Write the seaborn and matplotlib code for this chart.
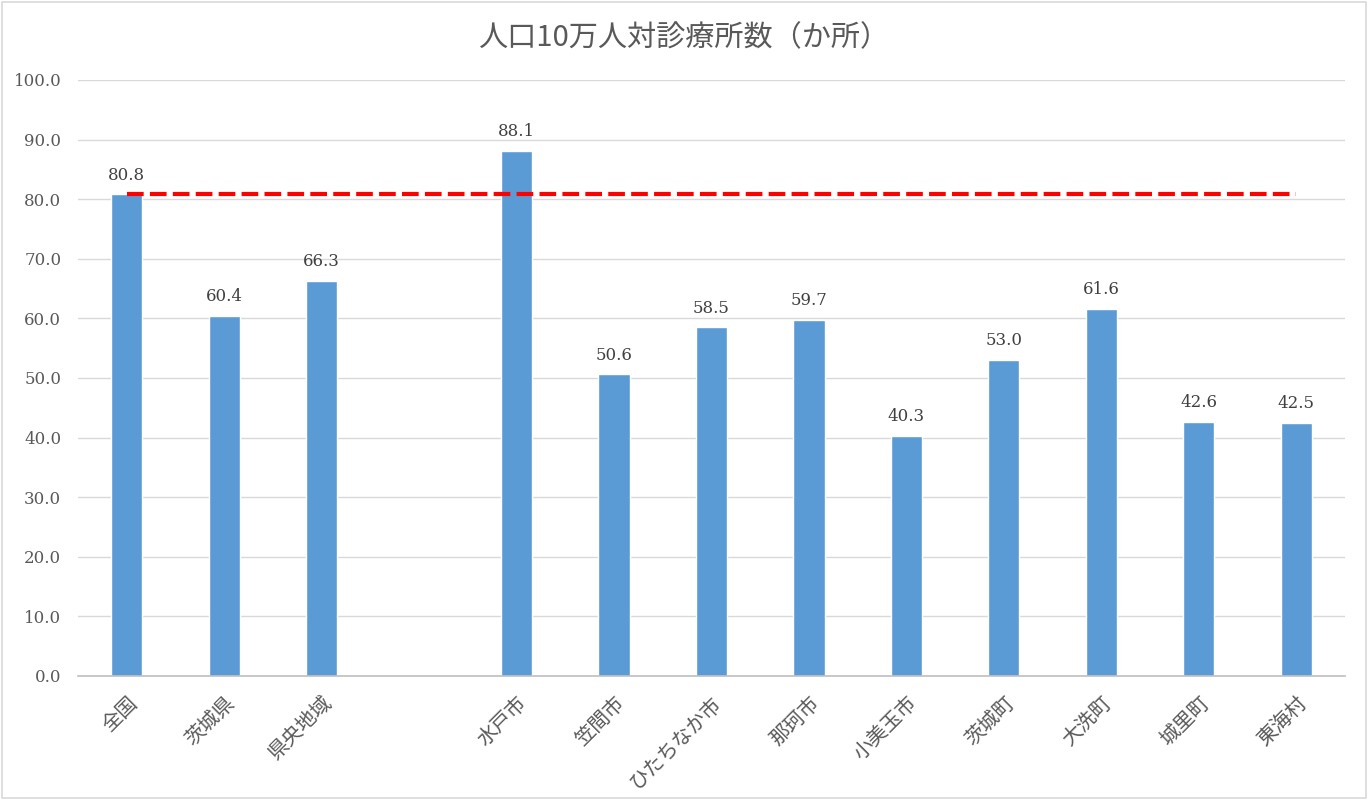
import matplotlib
matplotlib.use("Agg")
import matplotlib.pyplot as plt
import matplotlib.patches as mpatches
import seaborn as sns
import pandas as pd
import numpy as np

categories = ["全国", "茨城県", "県央地域", " ", "水戸市", "笠間市", "ひたちなか市", "那珂市",
              "小美玉市", "茨城町", "大洗町", "城里町", "東海村"]
values = [80.8, 60.4, 66.3, np.nan, 88.1, 50.6, 58.5, 59.7, 40.3, 53.0, 61.6, 42.6, 42.5]
national_value = 80.8
title = "人口10万人対診療所数（か所）"

sns.set_theme(style="white")
plt.rcParams['font.family'] = ['Noto Sans CJK JP', 'DejaVu Sans']

df = pd.DataFrame({"cat": categories, "val": values})

fig = plt.figure(figsize=(13.68, 8), dpi=100)
ax = fig.add_axes([78/1368, 124/800, (1345-78)/1368, (676-80)/800])

sns.barplot(data=df, x="cat", y="val", order=categories, color="#5B9BD5",
            width=0.32, saturation=1, ax=ax, errorbar=None)

ax.set_ylim(0, 100)
ax.set_xlim(-0.5, len(categories) - 0.5)
ax.set_yticks(np.arange(0, 101, 10))
ax.set_yticklabels([f"{v:.1f}" for v in np.arange(0, 101, 10)],
                   family=['DejaVu Serif'], fontsize=12, color="#595959")
ax.yaxis.grid(True, color="#d9d9d9", linewidth=1)
ax.set_axisbelow(True)
for s in ["top", "right", "left"]:
    ax.spines[s].set_visible(False)
ax.spines["bottom"].set_color("#bfbfbf")
ax.spines["bottom"].set_linewidth(1.2)
ax.tick_params(axis="both", length=0, pad=12)
ax.set_xlabel("")
ax.set_ylabel("")

ax.set_xticks(range(len(categories)))
ax.set_xticklabels(categories, rotation=45, ha="right", rotation_mode="anchor",
                   fontsize=14.5, color="#595959")
ax.tick_params(axis="x", pad=12)

for i, v in enumerate(values):
    if not np.isnan(v):
        ax.text(i, v + 1.8, f"{v:.1f}", ha="center", va="bottom", fontsize=12,
                color="#404040", family=['DejaVu Serif'])

ax.hlines(national_value, 0, len(categories) - 1, colors="#FF0000", linewidth=3,
          linestyles=(0, (4, 1.5)), zorder=5)

fig.text(0.5, 1 - 38/800, title, ha="center", va="center", fontsize=21, color="#595959")

fig.patches.append(mpatches.Rectangle((0.0015, 0.0025), 0.997, 0.995, transform=fig.transFigure,
                                      fill=False, edgecolor="#d9d9d9", linewidth=1.2))

fig.savefig("out.png", dpi=100)
